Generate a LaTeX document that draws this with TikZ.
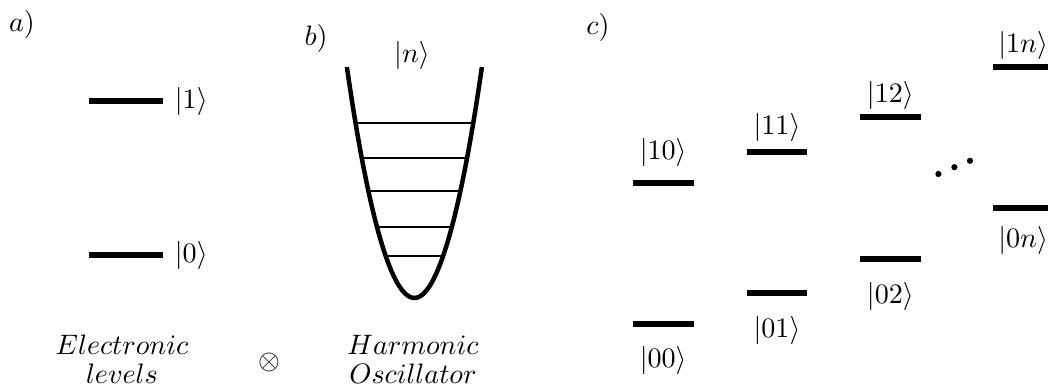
\documentclass[tikz,border=0pt]{standalone}
\usepackage{amsmath,amssymb}
\usepackage{tikz}
\usetikzlibrary{arrows.meta}

\begin{document}
\begin{tikzpicture}[>=Stealth, thick, enlev/.style={line width=1.8pt}]
    \useasboundingbox (0, 0) rectangle (13.1, 4.85);

    % 子图标号
    \node (la) at (0.275, 4.54) {$a)$};
    \node (lb) at (3.95, 4.375) {$b)$};
    \node (lc) at (7.475, 4.51) {$c)$};

    % a) 电子能级
    \draw[enlev] (1.1125, 3.5875) -- (2.0375, 3.5875) node[right] (e1) {$|1\rangle$};
    \draw[enlev] (1.1125, 1.6625) -- (2.0375, 1.6625) node[right] (e0) {$|0\rangle$};
    \node[anchor=base] (elec) at (1.525, 0.42) {$Electronic$};
    \node[anchor=base] (lev) at (1.525, 0.055) {$levels$};

    % 张量积
    \node (otim) at (3.3625, 0.325) {$\otimes$};

    % b) 谐振子势阱及能级
    \draw[line width=1.6pt] (4.336, 4.0125) parabola bend (5.18, 1.125) (6.024, 4.0125);
    \foreach \y/\w in {3.3125/0.734, 2.875/0.656, 2.4625/0.574, 2.0125/0.468, 1.65/0.36}
        \draw[thin] (5.18-\w, \y) -- (5.18+\w, \y);
    \node (n) at (5.15, 4.1625) {$|n\rangle$};
    \node[anchor=base] (harm) at (5.1625, 0.42) {$Harmonic$};
    \node[anchor=base] (osc) at (5.1625, 0.05) {$Oscillator$};

    % c) 组合能级
    \draw[enlev] (7.9125, 2.5625) -- (8.675, 2.5625);
    \node (s10) at (8.29, 2.94) {$|10\rangle$};
    \draw[enlev] (7.9125, 0.8) -- (8.675, 0.8);
    \node (s00) at (8.29, 0.35) {$|00\rangle$};

    \draw[enlev] (9.3375, 2.95) -- (10.0875, 2.95);
    \node (s11) at (9.7125, 3.256) {$|11\rangle$};
    \draw[enlev] (9.3375, 1.1875) -- (10.0875, 1.1875);
    \node (s01) at (9.7125, 0.72) {$|01\rangle$};

    \draw[enlev] (10.75, 3.3875) -- (11.5125, 3.3875);
    \node (s12) at (11.13, 3.6625) {$|12\rangle$};
    \draw[enlev] (10.75, 1.6125) -- (11.5125, 1.6125);
    \node (s02) at (11.13, 1.144) {$|02\rangle$};

    % 省略号
    \fill (11.73, 2.675) circle (1.1pt);
    \fill (11.93, 2.76) circle (1.1pt);
    \fill (12.125, 2.84) circle (1.1pt);

    \draw[enlev] (12.4125, 4.0125) -- (13.175, 4.0125);
    \node (s1n) at (12.79, 4.28) {$|1n\rangle$};
    \draw[enlev] (12.4125, 2.25) -- (13.175, 2.25);
    \node (s0n) at (12.79, 1.85) {$|0n\rangle$};
\end{tikzpicture}
\end{document}
